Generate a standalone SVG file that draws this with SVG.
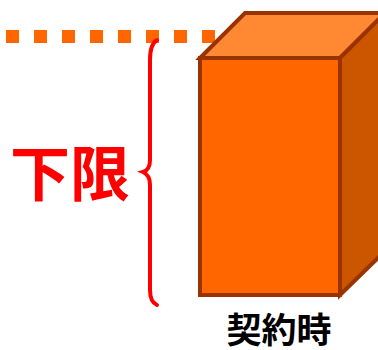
<svg xmlns="http://www.w3.org/2000/svg" width="378" height="350" viewBox="0 0 378 350">
  <style>
    .edge { stroke: #993300; stroke-width: 4; stroke-linejoin: miter; }
    .label { font-family: "Noto Sans CJK JP", "Noto Sans", sans-serif; font-weight: bold; text-anchor: middle; }
  </style>
  <rect width="378" height="350" fill="#ffffff"/>

  <g id="level-line">
    <line x1="6" y1="36.5" x2="216" y2="36.5" stroke="#FF6600" stroke-width="13" stroke-dasharray="13 15"/>
  </g>

  <g id="block">
    <polygon class="edge" points="200,58 245,13 385,13 340,58" fill="#FF8833"/>
    <polygon class="edge" points="340,58 385,13 385,251 340,295" fill="#CC5500"/>
    <rect class="edge" x="200" y="58" width="140" height="237" fill="#FF6600"/>
  </g>

  <g id="connectors">
    <path d="M157,40 Q150,44 150,60 L150,160 Q150,170 143,172 Q150,175 150,185 L150,290 Q150,302 157,305" fill="none" stroke="#FF0000" stroke-width="4" stroke-linecap="round"/>
  </g>

  <g id="lower-limit">
    <text class="label" x="70" y="196" font-size="60" fill="#FF0000">下限</text>
  </g>

  <g id="contract-time">
    <text class="label" x="279" y="343" font-size="35" fill="#000000">契約時</text>
  </g>
</svg>
